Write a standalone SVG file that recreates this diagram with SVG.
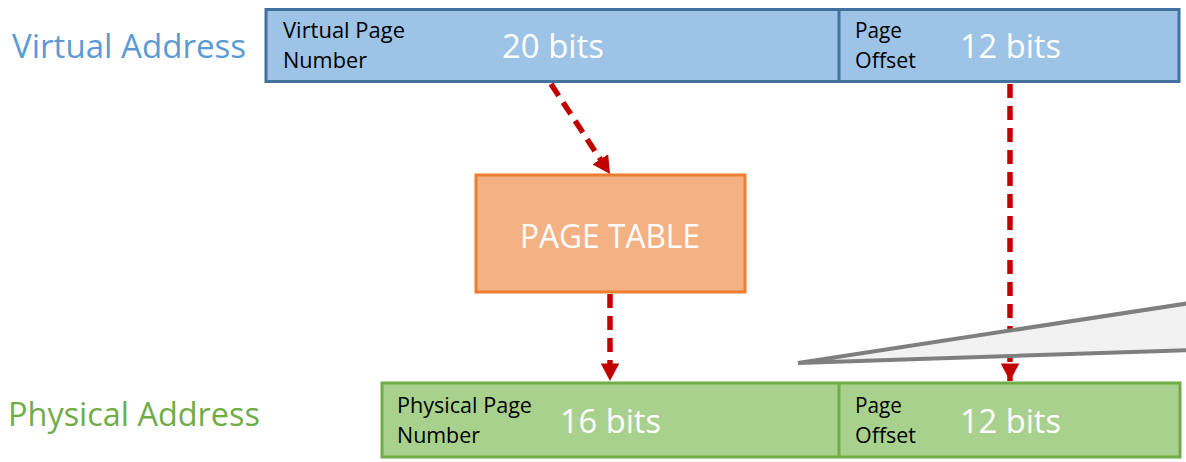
<svg xmlns="http://www.w3.org/2000/svg" width="1186" height="462" viewBox="0 0 1186 462">
<style>
.va{fill:#9DC3E6;stroke:#41719C;stroke-width:3}
.pa{fill:#A9D18E;stroke:#70AD47;stroke-width:3}
.pt{fill:#F4B183;stroke:#ED7D31;stroke-width:3}
.big{font-family:"Open Sans","Noto Sans",sans-serif;font-size:33px}
.sm{font-family:"Open Sans","Noto Sans",sans-serif;font-size:21px;fill:#000}
.wh{fill:#fff}
.conn{stroke:#C00000;stroke-width:5.5;stroke-dasharray:14 8;fill:none}
</style>
<defs>
<marker id="ah" markerWidth="3.2" markerHeight="3.4" refX="3.2" refY="1.7" orient="auto" markerUnits="strokeWidth">
<path d="M0,0 L3.2,1.7 L0,3.4 Z" fill="#C00000"/>
</marker>
</defs>
<g id="label-virtual"><text class="big" x="12" y="58" fill="#5B9BD5" textLength="234" lengthAdjust="spacingAndGlyphs">Virtual Address</text></g>
<g id="label-physical"><text class="big" x="8" y="426" fill="#70AD47" textLength="252" lengthAdjust="spacingAndGlyphs">Physical Address</text></g>
<g id="virtual-address">
<rect class="va" x="266" y="9.5" width="913" height="72"/>
<line x1="839" y1="9.5" x2="839" y2="81.5" stroke="#41719C" stroke-width="3"/>
<text class="sm" x="283" y="38" textLength="122" lengthAdjust="spacingAndGlyphs">Virtual Page</text>
<text class="sm" x="283" y="68" textLength="84" lengthAdjust="spacingAndGlyphs">Number</text>
<text class="big wh" x="502" y="58" textLength="102" lengthAdjust="spacingAndGlyphs">20 bits</text>
<text class="sm" x="855" y="38" textLength="47" lengthAdjust="spacingAndGlyphs">Page</text>
<text class="sm" x="855" y="68" textLength="61" lengthAdjust="spacingAndGlyphs">Offset</text>
<text class="big wh" x="960" y="58" textLength="101" lengthAdjust="spacingAndGlyphs">12 bits</text>
</g>
<g id="page-table">
<rect class="pt" x="476" y="175" width="269" height="117"/>
<text class="big wh" x="520" y="248" textLength="180" lengthAdjust="spacingAndGlyphs">PAGE TABLE</text>
</g>
<g id="physical-address">
<rect class="pa" x="382" y="383" width="798" height="74"/>
<line x1="839" y1="383" x2="839" y2="457" stroke="#70AD47" stroke-width="3"/>
<text class="sm" x="397" y="413" textLength="135" lengthAdjust="spacingAndGlyphs">Physical Page</text>
<text class="sm" x="397" y="443" textLength="83" lengthAdjust="spacingAndGlyphs">Number</text>
<text class="big wh" x="560" y="433" textLength="101" lengthAdjust="spacingAndGlyphs">16 bits</text>
<text class="sm" x="855" y="413" textLength="47" lengthAdjust="spacingAndGlyphs">Page</text>
<text class="sm" x="855" y="443" textLength="61" lengthAdjust="spacingAndGlyphs">Offset</text>
<text class="big wh" x="960" y="433" textLength="101" lengthAdjust="spacingAndGlyphs">12 bits</text>
</g>
<g id="connectors">
<line class="conn" x1="551" y1="84" x2="610" y2="174" marker-end="url(#ah)"/>
<line class="conn" x1="610" y1="294" x2="610" y2="381" marker-end="url(#ah)"/>
<line class="conn" x1="1010" y1="84" x2="1010" y2="381" marker-end="url(#ah)"/>
</g>
<g id="wedge">
<polygon points="798,363 1190,303 1190,350" fill="#F2F2F2" stroke="#7F7F7F" stroke-width="4" stroke-linejoin="miter"/>
</g>
</svg>
